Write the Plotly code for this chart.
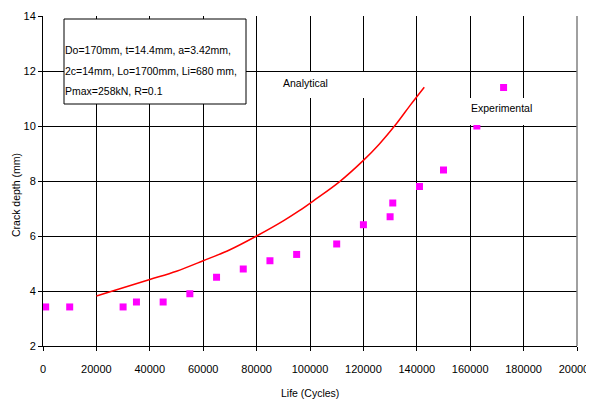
import plotly.graph_objects as go

# Experimental data
exp_life = [1000, 10000, 30000, 35000, 45000, 55000, 65000, 75000, 85000, 95000,
            110000, 120000, 130000, 131000, 141000, 150000, 162500, 172500]
exp_depth = [3.42, 3.42, 3.42, 3.6, 3.6, 3.9, 4.5, 4.8, 5.1, 5.33,
             5.71, 6.41, 6.7, 7.2, 7.8, 8.4, 10.0, 11.4]

# Analytical curve
ana_life = [20000, 30000, 40000, 50000, 60000, 70000, 80000, 90000, 96000,
            102000, 111000, 120000, 126000, 132500, 137500, 142800]
ana_depth = [3.82, 4.12, 4.42, 4.72, 5.1, 5.5, 6.0, 6.55, 6.92,
             7.33, 7.97, 8.75, 9.35, 10.1, 10.75, 11.41]

x_ticks = [0, 20000, 40000, 60000, 80000, 100000, 120000, 140000, 160000, 180000, 200000]
y_ticks = [2, 4, 6, 8, 10, 12, 14]

box_lines = ["Do=170mm, t=14.4mm, a=3.42mm,",
             "2c=14mm, Lo=1700mm, Li=680 mm,",
             "Pmax=258kN, R=0.1"]

FONT = "Liberation Sans, Arial, sans-serif"

# plot area in page pixels
PL, PR, PT, PB = 43, 577, 16, 346
PW, PH = PR - PL, PB - PT
def px(x):
    return (x - PL) / PW
def py(y):
    return (PB - y) / PH

fig = go.Figure()
fig.add_trace(go.Scatter(x=ana_life, y=ana_depth, mode="lines",
                         line=dict(color="#FF0000", width=1.5, shape="spline"),
                         name="Analytical", showlegend=False))
fig.add_trace(go.Scatter(x=exp_life, y=exp_depth, mode="markers",
                         marker=dict(symbol="square", color="#FF00FF", size=7),
                         name="Experimental", showlegend=False))

# Label boxes (white background covering grid)
fig.add_shape(type="rect", xref="paper", yref="paper",
              x0=px(257), x1=px(364), y0=py(98), y1=py(72),
              fillcolor="white", line=dict(width=0), layer="above")
fig.add_shape(type="rect", xref="paper", yref="paper",
              x0=px(466), x1=px(535), y0=py(125), y1=py(98),
              fillcolor="white", line=dict(width=0), layer="above")
fig.add_annotation(xref="paper", yref="paper", x=px(281), y=py(83),
                   xanchor="left", yanchor="middle", showarrow=False,
                   text="Analytical", font=dict(family=FONT, size=10.5, color="black"))
fig.add_annotation(xref="paper", yref="paper", x=px(469), y=py(108),
                   xanchor="left", yanchor="middle", showarrow=False,
                   text="Experimental", font=dict(family=FONT, size=10.5, color="black"))

# Parameter box
fig.add_shape(type="rect", xref="paper", yref="paper",
              x0=px(64), x1=px(246), y0=py(104), y1=py(19),
              fillcolor="white", line=dict(color="black", width=1), layer="above")
for line_text, ly in zip(box_lines, [50, 71, 91]):
    fig.add_annotation(xref="paper", yref="paper", x=px(63), y=py(ly),
                       xanchor="left", yanchor="middle", showarrow=False, align="left",
                       text=line_text, font=dict(family=FONT, size=10.5, color="black"))

# Axis titles
fig.add_annotation(xref="paper", yref="paper", x=0.5, y=0, yshift=-(393 - PB),
                   xanchor="center", yanchor="middle", showarrow=False,
                   text="Life (Cycles)", font=dict(family=FONT, size=10.5, color="black"))
fig.add_annotation(xref="paper", yref="paper", x=0, xshift=-(PL - 16), y=py(195),
                   xanchor="center", yanchor="middle", showarrow=False, textangle=-90,
                   text="Crack depth (mm)", font=dict(family=FONT, size=10.5, color="black"))

# page has an 8px body margin; compensate so the plot area lands at the target pixels
OFF = 8
fig.update_layout(
    width=594 - OFF, height=401 - OFF,
    margin=dict(l=PL - OFF, r=594 - PR, t=PT - OFF, b=401 - PB),
    paper_bgcolor="white", plot_bgcolor="white",
    font=dict(family=FONT, size=11, color="black"),
    xaxis=dict(range=[0, 200000], tickvals=x_ticks, ticktext=[str(v) for v in x_ticks],
               showgrid=True, gridcolor="black", gridwidth=1, automargin=False,
               showline=True, linecolor="black", linewidth=1, mirror=False,
               ticks="outside", ticklen=4, tickcolor="black", zeroline=False,
               tickfont=dict(size=11), ticklabelstandoff=9, ticklabeloverflow="allow"),
    yaxis=dict(range=[2, 14], tickvals=y_ticks, automargin=False,
               showgrid=True, gridcolor="black", gridwidth=1,
               showline=True, linecolor="black", linewidth=1, mirror=False,
               ticks="outside", ticklen=4, tickcolor="black", zeroline=False,
               tickfont=dict(size=11)),
)
# right border in gray
fig.add_shape(type="line", xref="paper", yref="paper", x0=1, x1=1, y0=0, y1=1,
              line=dict(color="#808080", width=1.5))

fig.write_html("out.html")
